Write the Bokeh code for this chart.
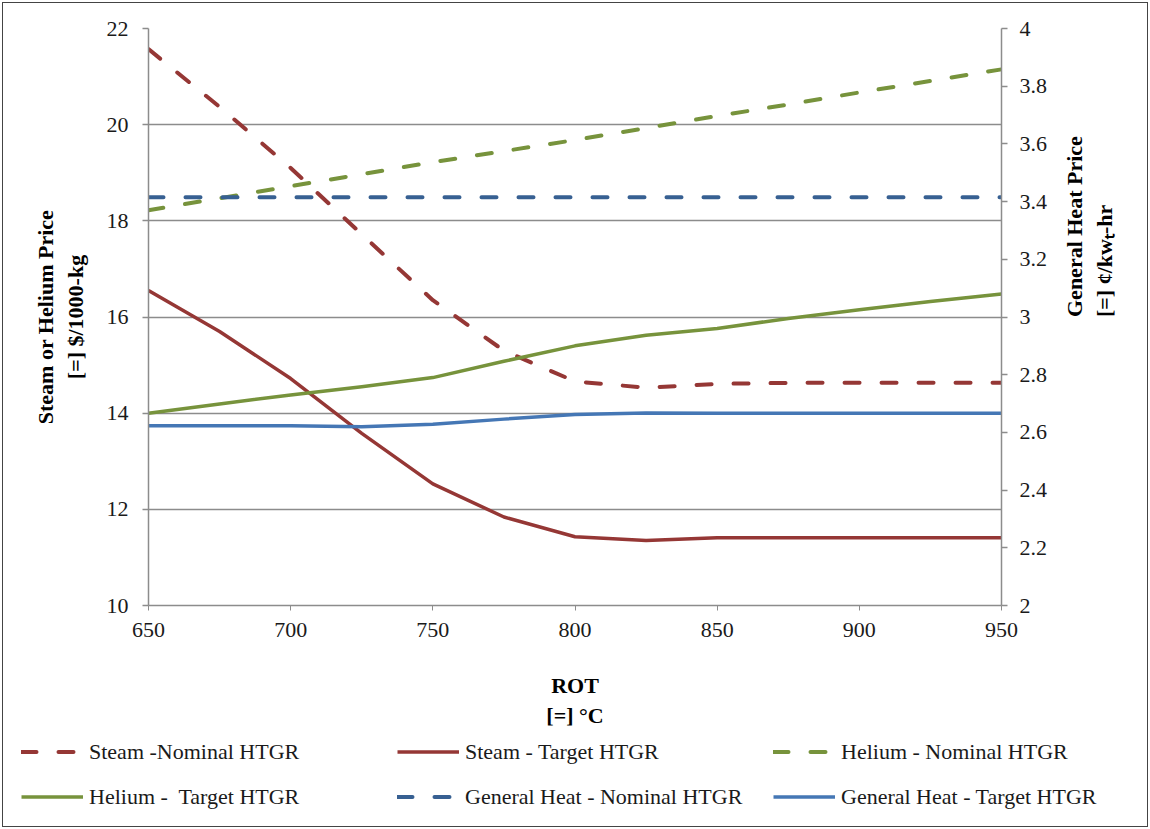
import math
from bokeh.plotting import figure
from bokeh.layouts import column
from bokeh.models import (Range1d, LinearAxis, FixedTicker, CustomJSTickFormatter,
                          Legend, LegendItem)
from bokeh.embed import file_html
from bokeh.resources import INLINE

# ---------------- data ----------------
rot = [650, 675, 700, 725, 750, 775, 800, 825, 850, 875, 900, 925, 950]
steam_nominal = [21.57, 20.37, 19.10, 17.72, 16.35, 15.30, 14.66, 14.53, 14.61, 14.63, 14.63, 14.63, 14.63]
steam_target = [16.55, 15.70, 14.72, 13.58, 12.53, 11.84, 11.43, 11.35, 11.41, 11.41, 11.41, 11.41, 11.41]
helium_nominal = [18.22, 18.47, 18.72, 18.97, 19.22, 19.45, 19.68, 19.93, 20.18, 20.42, 20.67, 20.91, 21.15]
helium_target = [14.00, 14.19, 14.38, 14.55, 14.74, 15.08, 15.40, 15.62, 15.76, 15.97, 16.15, 16.32, 16.48]
heat_nominal = [3.415, 3.415, 3.415, 3.415, 3.415, 3.415, 3.415, 3.415, 3.415, 3.415, 3.415, 3.415, 3.415]
heat_target = [2.623, 2.623, 2.623, 2.620, 2.628, 2.646, 2.662, 2.667, 2.666, 2.666, 2.666, 2.666, 2.666]

x_ticks = [650, 700, 750, 800, 850, 900, 950]
left_ticks = [10, 12, 14, 16, 18, 20, 22]
right_ticks = [2.0, 2.2, 2.4, 2.6, 2.8, 3.0, 3.2, 3.4, 3.6, 3.8, 4.0]

labels = ["Steam -Nominal HTGR", "Steam - Target HTGR", "Helium - Nominal HTGR",
          "Helium -  Target HTGR", "General Heat - Nominal HTGR", "General Heat - Target HTGR"]

RED = "#953735"
GREEN = "#77933C"
BLUE_D = "#376092"
BLUE_S = "#4577B5"
GRID = "#8C8C8C"
FONT = "Liberation Serif"
TXT = "#1a1a1a"
DASH = "15 22"

styles = [
    dict(line_color=RED, line_width=4, line_dash=DASH, line_cap="round"),
    dict(line_color=RED, line_width=3.5, line_join="round"),
    dict(line_color=GREEN, line_width=4, line_dash=DASH, line_cap="round"),
    dict(line_color=GREEN, line_width=3.5, line_join="round"),
    dict(line_color=BLUE_D, line_width=4, line_dash=DASH, line_cap="round"),
    dict(line_color=BLUE_S, line_width=3.5, line_join="round"),
]

p = figure(width=1144, height=730,
           x_range=Range1d(650, 950), y_range=Range1d(10, 22),
           output_backend="svg", toolbar_location=None,
           min_border_left=145, min_border_right=146,
           min_border_top=25, min_border_bottom=128)
p.outline_line_color = None
p.background_fill_color = "white"
p.border_fill_color = "white"

p.extra_y_ranges = {"right": Range1d(2, 4)}

# grid
p.xgrid.visible = False
p.ygrid.grid_line_color = GRID
p.ygrid.grid_line_width = 1.5
p.ygrid.ticker = FixedTicker(ticks=left_ticks)

# left axis
ya = p.yaxis[0]
ya.ticker = FixedTicker(ticks=left_ticks)
ya.axis_label = "Steam or Helium Price\n[=] $/1000-kg"
ya.axis_label_text_font = FONT
ya.axis_label_text_font_style = "bold"
ya.axis_label_text_font_size = "22px"
ya.axis_label_text_color = "black"
ya.axis_label_standoff = 16
ya.major_label_text_font = FONT
ya.major_label_text_font_size = "22px"
ya.major_label_text_color = TXT
ya.major_label_standoff = 14
ya.axis_line_color = GRID
ya.axis_line_width = 1.5
ya.major_tick_line_color = GRID
ya.major_tick_line_width = 1.5
ya.major_tick_out = 6
ya.major_tick_in = 0
ya.minor_tick_line_color = None

# bottom axis
xa = p.xaxis[0]
xa.ticker = FixedTicker(ticks=x_ticks)
xa.axis_label = "ROT\n[=] °C"
xa.axis_label_text_font = FONT
xa.axis_label_text_font_style = "bold"
xa.axis_label_text_font_size = "22px"
xa.axis_label_text_color = "black"
xa.axis_label_text_line_height = 1.2
xa.axis_label_standoff = 33
xa.major_label_text_font = FONT
xa.major_label_text_font_size = "22px"
xa.major_label_text_color = TXT
xa.major_label_standoff = 12
xa.axis_line_color = GRID
xa.axis_line_width = 1.5
xa.major_tick_line_color = GRID
xa.major_tick_out = 5
xa.major_tick_in = 0
xa.minor_tick_line_color = None

# right axis
ra = LinearAxis(y_range_name="right",
                ticker=FixedTicker(ticks=right_ticks),
                formatter=CustomJSTickFormatter(code="return String(Math.round(tick*10)/10)"))
ra.axis_label = "General Heat Price\n[=] ¢/kwₜ-hr"
ra.axis_label_text_font = FONT
ra.axis_label_text_font_style = "bold"
ra.axis_label_text_font_size = "22px"
ra.axis_label_text_color = "black"
ra.axis_label_standoff = 39
ra.major_label_text_font = FONT
ra.major_label_text_font_size = "22px"
ra.major_label_text_color = TXT
ra.major_label_standoff = 12
ra.axis_line_color = GRID
ra.axis_line_width = 1.5
ra.major_tick_line_color = GRID
ra.major_tick_line_width = 1.5
ra.major_tick_out = 6
ra.major_tick_in = 0
ra.minor_tick_line_color = None
try:
    ra.axis_label_orientation = math.pi / 2
except AttributeError:
    pass
p.add_layout(ra, "right")

# series
p.line(rot, steam_nominal, **styles[0])
p.line(rot, steam_target, **styles[1])
p.line(rot, helium_nominal, **styles[2])
p.line(rot, helium_target, **styles[3])
p.line(rot, heat_nominal, y_range_name="right", **styles[4])
p.line(rot, heat_target, y_range_name="right", **styles[5])

# legend panel (separate strip below the chart)
lg = figure(width=1144, height=93, x_range=Range1d(0, 1), y_range=Range1d(0, 1),
            output_backend="svg", toolbar_location=None,
            min_border_left=0, min_border_right=0, min_border_top=0, min_border_bottom=0)
lg.axis.visible = False
lg.grid.visible = False
lg.outline_line_color = None
lg.border_fill_color = "white"
for fig in (p, lg):
    try:
        fig.frame_align = False
    except AttributeError:
        pass
keys = [lg.line([math.nan], [math.nan], **st) for st in styles]
items = [LegendItem(label=lab, renderers=[r]) for lab, r in zip(labels, keys)]
legend = Legend(items=items, orientation="horizontal", ncols=3,
                location=(18, 15), margin=0,
                glyph_width=62, glyph_height=29, label_height=29, label_width=292,
                label_standoff=6, spacing=16, padding=5,
                label_text_font=FONT, label_text_font_size="22px", label_text_color=TXT,
                border_line_color=None, background_fill_alpha=0)
lg.add_layout(legend, "center")

page = column(p, lg, spacing=0)
page.styles = {"margin": "2px", "border": "1px solid #444444"}

open("out.html", "w").write(file_html(page, INLINE))
